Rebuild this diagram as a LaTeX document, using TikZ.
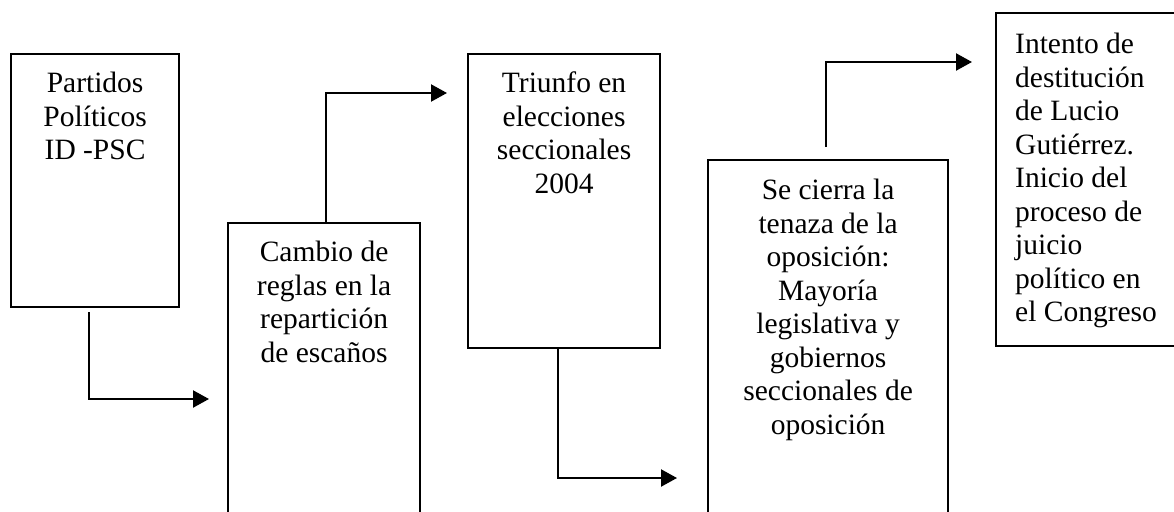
\documentclass[tikz,border=0pt]{standalone}
\usepackage{fontspec}
\setmainfont{Liberation Serif}
\usetikzlibrary{arrows.meta,calc}
\tikzset{
  x=1pt, y=-1pt,
  box/.style={draw=black, line width=2.2pt, anchor=north west, inner sep=0pt, minimum width=#1},
  txt/.style={inner sep=0pt, align=center, font=\fontsize{29.5}{33.5}\selectfont},
  ltxt/.style={inner sep=0pt, align=left, font=\fontsize{29.5}{33.5}\selectfont},
  conn/.style={line width=2.2pt, -{Triangle[length=16pt,width=17pt]}},
}
\begin{document}
\begin{tikzpicture}
\useasboundingbox (0,0) rectangle (1174,511);
\clip (0,0) rectangle (1174,511);
% boxes
\node[box=168pt, minimum height=253pt] (b1) at (10,53) {};
\node[box=192pt, minimum height=310pt] (b2) at (227,222) {};
\node[box=192pt, minimum height=294pt] (b3) at (467,53) {};
\node[box=240pt, minimum height=372pt] (b4) at (707,159) {};
\node[box=200pt, minimum height=333pt] (b5) at (995,12) {};
% texts
\node[txt, anchor=north, yshift=-19pt] (t1) at (b1.north) {Partidos\\Políticos\\ID -PSC};
\node[txt, anchor=north, yshift=-19pt] (t2) at (b2.north) {Cambio de\\reglas en la\\repartición\\de escaños};
\node[txt, anchor=north, yshift=-19pt] (t3) at (b3.north) {Triunfo en\\elecciones\\seccionales\\2004};
\node[txt, anchor=north, yshift=-20pt] (t4) at (b4.north) {Se cierra la\\tenaza de la\\oposición:\\Mayoría\\legislativa y\\gobiernos\\seccionales de\\oposición};
\node[ltxt, anchor=north west, xshift=20pt, yshift=-21pt] (t5) at (b5.north west) {Intento de\\destitución\\de Lucio\\Gutiérrez.\\Inicio del\\proceso de\\juicio\\político en\\el Congreso};
% connector end points
\coordinate (e1) at (209,399);
\coordinate (e2) at (447,93);
\coordinate (e3) at (677,478);
\coordinate (e4) at (972,62);
% connectors
\draw[conn] ([xshift=-6pt,yshift=-4pt]b1.south) |- (e1);
\draw[conn] ([xshift=2pt]b2.north) |- (e2);
\draw[conn] ([xshift=-6pt]b3.south) |- (e3);
\draw[conn] ([xshift=-2pt,yshift=12pt]b4.north) |- (e4);
\end{tikzpicture}
\end{document}
